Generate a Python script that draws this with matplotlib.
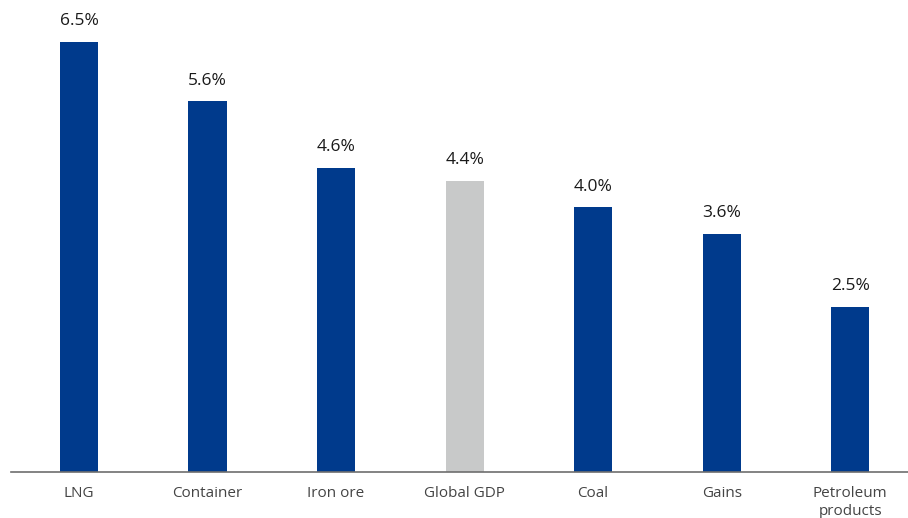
import matplotlib.pyplot as plt

categories = ["LNG", "Container", "Iron ore", "Global GDP", "Coal", "Gains", "Petroleum\nproducts"]
values = [6.5, 5.6, 4.6, 4.4, 4.0, 3.6, 2.5]
highlight = "Global GDP"

blue = "#003A8C"
grey = "#C8C9C9"

plt.rcParams['font.family'] = ['Open Sans', 'DejaVu Sans']

fig = plt.figure(figsize=(9.08, 5.18), dpi=100)
ax = fig.add_axes([11 / 908, 46 / 518, 1 - 11 / 908, 1 - 56 / 518])

x = list(range(len(categories)))
colors = [grey if c == highlight else blue for c in categories]
ax.bar(x, values, width=0.296, color=colors, zorder=2)

for xi, v in zip(x, values):
    ax.annotate(f"{v:.1f}%", (xi, v), xytext=(0, 9), textcoords="offset points",
                ha="center", va="bottom", fontsize=12.5, color="#1a1a1a")

ax.set_xlim(-0.529, 6.45)
ax.set_ylim(0, 6.98)
ax.set_xticks(x)
ax.set_xticklabels(categories, fontsize=11, color="#444444", linespacing=1.25)
ax.tick_params(axis="x", length=0, pad=10)
ax.set_yticks([])

for s in ["top", "right", "left"]:
    ax.spines[s].set_visible(False)
ax.spines["bottom"].set_color("#6e6e6e")
ax.spines["bottom"].set_linewidth(1.2)

fig.savefig("out.png", dpi=100)
